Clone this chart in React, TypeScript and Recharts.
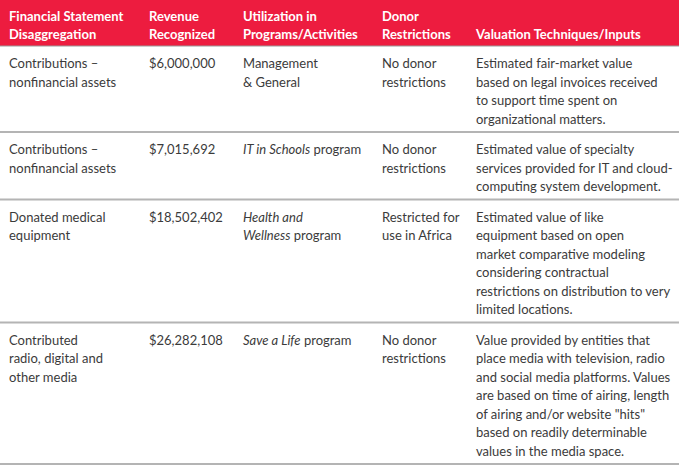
import React from 'react';
import { ComposedChart, XAxis, YAxis, Scatter, ReferenceArea, ReferenceLine } from 'recharts';

const W = 679;
const H = 468;

// Table content (line breaks as printed)
const headers = [
  ['Financial Statement', 'Disaggregation'],
  ['Revenue', 'Recognized'],
  ['Utilization in', 'Programs/Activities'],
  ['Donor', 'Restrictions'],
  ['Valuation Techniques/Inputs'],
];

const disaggregation = [
  ['Contributions –', 'nonfinancial assets'],
  ['Contributions –', 'nonfinancial assets'],
  ['Donated medical', 'equipment'],
  ['Contributed', 'radio, digital and', 'other media'],
];

const revenue = [6000000, 7015692, 18502402, 26282108];

const utilization = [
  ['Management', '& General'],
  ['*IT in Schools* program'],
  ['*Health and*', '*Wellness* program'],
  ['*Save a Life* program'],
];

const restrictions = [
  ['No donor', 'restrictions'],
  ['No donor', 'restrictions'],
  ['Restricted for', 'use in Africa'],
  ['No donor', 'restrictions'],
];

const valuation = [
  ['Estimated fair-market value', 'based on legal invoices received', 'to support time spent on', 'organizational matters.'],
  ['Estimated value of specialty', 'services provided for IT and cloud-', 'computing system development.'],
  ['Estimated value of like', 'equipment based on open', 'market comparative modeling', 'considering contractual', 'restrictions on distribution to very', 'limited locations.'],
  ['Value provided by entities that', 'place media with television, radio', 'and social media platforms. Values', 'are based on time of airing, length', 'of airing and/or website "hits"', 'based on readily determinable', 'values in the media space.'],
];

const colX = [9, 149, 243, 382, 476];
const HEADER_H = 46;
const LINE_H = 18.5;
const ROW_PAD = 12;
const RED = '#ed1c3f';
const INK = '#3b3b3b';
const FONT = 'Lato, "Open Sans", sans-serif';

const fmtMoney = (v: number) => `$${v.toLocaleString('en-US')}`;

// row tops
const rowCells = revenue.map((v, i) => [
  disaggregation[i],
  [fmtMoney(v)],
  utilization[i],
  restrictions[i],
  valuation[i],
]);
const rowTops: number[] = [];
let acc = HEADER_H;
rowCells.forEach((cells) => {
  rowTops.push(acc);
  acc += Math.max(...cells.map((c) => c.length)) * LINE_H + ROW_PAD;
});
const rowBottoms = rowCells.map((_, i) => (i < rowCells.length - 1 ? rowTops[i + 1] : acc));

const bodyPoints = rowCells.flatMap((cells, r) =>
  cells.map((lines, c) => ({ x: colX[c], y: rowTops[r], lines }))
);
const headerPoints = headers.map((lines, c) => ({ x: colX[c], y: 0, lines }));

function renderRich(line: string) {
  const parts = line.split('*');
  return parts.map((p, i) =>
    p ? (
      <tspan key={i} fontStyle={i % 2 === 1 ? 'italic' : 'normal'}>
        {p}
      </tspan>
    ) : null
  );
}

const BodyCell = (props: any) => {
  const { cx, cy, payload } = props;
  return (
    <text x={cx} y={cy} fontFamily={FONT} fontSize={13} fill={INK}>
      {payload.lines.map((l: string, i: number) => (
        <tspan key={i} x={cx} y={cy + 22 + i * LINE_H}>
          {renderRich(l)}
        </tspan>
      ))}
    </text>
  );
};

const HeaderCell = (props: any) => {
  const { cx, cy, payload } = props;
  const n = payload.lines.length;
  return (
    <text x={cx} y={cy} fontFamily={FONT} fontSize={13} fontWeight={700} fill="#ffffff">
      {payload.lines.map((l: string, i: number) => (
        <tspan key={i} x={cx} y={cy + 39 - (n - 1 - i) * 18}>
          {l}
        </tspan>
      ))}
    </text>
  );
};

export default function App() {
  return (
    <div style={{ position: 'absolute', left: 0, top: 0, width: W, height: H, background: '#fff' }}>
      <ComposedChart width={W} height={H} margin={{ top: 0, right: 0, bottom: 0, left: 0 }}>
        <XAxis type="number" dataKey="x" domain={[0, W]} hide allowDataOverflow />
        <YAxis type="number" dataKey="y" domain={[0, H]} reversed hide allowDataOverflow />
        <ReferenceArea x1={0} x2={W} y1={0} y2={HEADER_H} fill={RED} fillOpacity={1} stroke="none" />
        <ReferenceLine y={HEADER_H} stroke="#9a9a9a" strokeWidth={1} />
        {rowBottoms.map((y, i) => (
          <ReferenceLine key={i} y={y} stroke="#b4b4b4" strokeWidth={2} />
        ))}
        <Scatter data={headerPoints} shape={<HeaderCell />} isAnimationActive={false} />
        <Scatter data={bodyPoints} shape={<BodyCell />} isAnimationActive={false} />
      </ComposedChart>
    </div>
  );
}
